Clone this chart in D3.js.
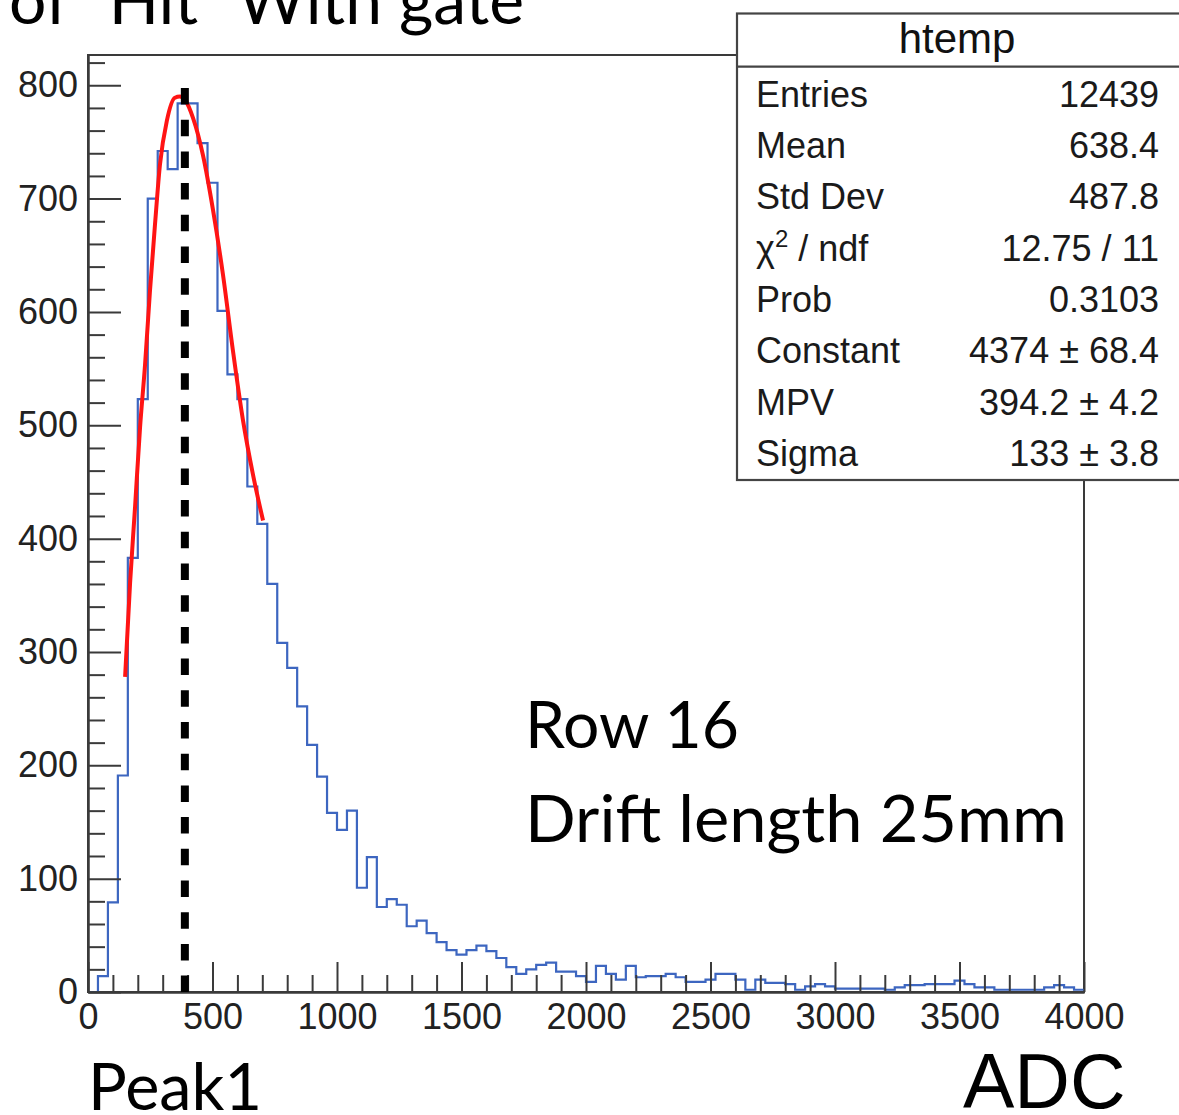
<!DOCTYPE html>
<html><head><meta charset="utf-8">
<script src="https://cdn.jsdelivr.net/npm/d3@7"></script>
<style>html,body{margin:0;padding:0;background:#fff;overflow:hidden}</style>
</head><body><svg id="c" width="1179" height="1115"></svg>
<script>
// ---- data ----
const binWidth = 40; // ADC per bin, 100 bins over 0..4000
const counts = [
  0, 14, 79, 191, 383, 523, 700, 742, 726, 784,
  784, 749, 714, 601, 545, 523, 446, 413, 360, 308,
  286, 252, 218, 190, 158, 143, 160, 92, 119, 75,
  82, 77, 58, 63, 52, 44, 37, 33, 37, 41,
  36, 30, 22, 16, 20, 24, 26, 18, 18, 14,
  9, 23, 16, 11, 23, 13, 14, 14, 16, 13,
  9, 9, 11, 16, 16, 11, 2, 11, 8, 8,
  7, 2, 5, 7, 5, 3, 3, 3, 3, 3,
  2, 4, 6, 6, 7, 7, 7, 10, 7, 4,
  4, 2, 2, 2, 2, 2, 4, 6, 4, 2
];
const fitADC = [149, 169, 189, 209, 229, 249, 269, 289, 317, 349, 369, 390, 422, 462, 502, 542, 582, 622, 663, 703];
const fitVal = [278, 361, 428, 498, 553, 619, 677, 730, 769, 789, 790, 787, 771, 738, 690, 633, 566, 505, 456, 416];
const peakADC = 389;
const xTicks = [0, 500, 1000, 1500, 2000, 2500, 3000, 3500, 4000];
const yTicks = [0, 100, 200, 300, 400, 500, 600, 700, 800];
const statsTitle = "htemp";
const statsLabels = ["Entries", "Mean", "Std Dev", "χ2 / ndf", "Prob", "Constant", "MPV", "Sigma"];
const statsValues = ["12439", "638.4", "487.8", "12.75 / 11", "0.3103", "4374 ± 68.4", "394.2 ± 4.2", "133 ± 3.8"];
const titleText = "of \u201CHit\u201D With gate";
const noteLines = ["Row 16", "Drift length 25mm"];
const peakLabel = "Peak1";
const xLabel = "ADC";

// ---- drawing ----
const svg = d3.select("#c");
const x = d3.scaleLinear().domain([0, 4000]).range([88, 1084]);
const y = d3.scaleLinear().domain([0, 826.7]).range([992, 55]);
const axisCol = "#3a3a3a";
const rootFont = "'Liberation Sans', Arial, sans-serif";
const slideFont = "Lato, 'Open Sans', sans-serif";

// frame
svg.append("rect").attr("x", x(0)).attr("y", y(826.7))
  .attr("width", x(4000) - x(0)).attr("height", y(0) - y(826.7))
  .attr("fill", "none").attr("stroke", axisCol).attr("stroke-width", 2);

// histogram
const histPts = counts.map((c, i) => [i * binWidth, c]);
histPts.push([counts.length * binWidth, counts[counts.length - 1]]);
histPts.unshift([0, 0]);
svg.append("path")
  .attr("d", d3.line().x(d => x(d[0])).y(d => y(d[1])).curve(d3.curveStepAfter)(histPts))
  .attr("fill", "none").attr("stroke", "#3d66c0").attr("stroke-width", 2.2);

// fit curve
svg.append("path")
  .attr("d", d3.line().x((d, i) => x(fitADC[i])).y((d, i) => y(fitVal[i])).curve(d3.curveMonotoneX)(fitADC))
  .attr("fill", "none").attr("stroke", "#ff1414").attr("stroke-width", 4).attr("stroke-linejoin", "round");

// axes
const yMinor = d3.range(0, 821, 20).filter(v => v % 100 !== 0);
const xMinor = d3.range(0, 4001, 100).filter(v => v % 500 !== 0);
function styleAxis(g) {
  g.selectAll("path.domain").attr("stroke", axisCol).attr("stroke-width", 2);
  g.selectAll(".tick line").attr("stroke", axisCol).attr("stroke-width", 2);
  g.selectAll("text").attr("font-family", rootFont).attr("font-size", 36).attr("fill", "#222");
}
svg.append("g").attr("transform", `translate(${x(0)},0)`)
  .call(d3.axisLeft(y).tickValues(yMinor).tickSizeInner(-17).tickSizeOuter(0).tickFormat(""))
  .call(styleAxis);
svg.append("g").attr("transform", `translate(${x(0)},0)`)
  .call(d3.axisLeft(y).tickValues(yTicks).tickSizeInner(-33).tickSizeOuter(0).tickPadding(10).tickFormat(d3.format("d")))
  .call(styleAxis);
svg.append("g").attr("transform", `translate(0,${y(0)})`)
  .call(d3.axisBottom(x).tickValues(xMinor).tickSizeInner(-17).tickSizeOuter(0).tickFormat(""))
  .call(styleAxis);
svg.append("g").attr("transform", `translate(0,${y(0)})`)
  .call(d3.axisBottom(x).tickValues(xTicks).tickSizeInner(-30).tickSizeOuter(0).tickPadding(11).tickFormat(d3.format("d")))
  .call(styleAxis);

// dashed peak marker
svg.append("line").attr("x1", x(peakADC)).attr("x2", x(peakADC)).attr("y1", 88).attr("y2", 1000)
  .attr("stroke", "#000").attr("stroke-width", 8).attr("stroke-dasharray", "16.5 15.2");

// stats box
const sb = svg.append("g");
sb.append("rect").attr("x", 737).attr("y", 13.5).attr("width", 470).attr("height", 466.5)
  .attr("fill", "#fff").attr("stroke", "#444").attr("stroke-width", 2.2);
sb.append("line").attr("x1", 737).attr("x2", 1179).attr("y1", 66.7).attr("y2", 66.7)
  .attr("stroke", "#444").attr("stroke-width", 2.2);
sb.append("text").attr("x", 957).attr("y", 53).attr("text-anchor", "middle")
  .attr("font-family", rootFont).attr("font-size", 42).attr("fill", "#111").text(statsTitle);
statsLabels.forEach((lab, i) => {
  const by = 106.7 + 51.3 * i;
  const t = sb.append("text").attr("x", 756).attr("y", by)
    .attr("font-family", rootFont).attr("font-size", 36).attr("fill", "#1a1a1a");
  if (lab.startsWith("χ2")) {
    t.append("tspan").text("χ");
    t.append("tspan").attr("font-size", 24).attr("dy", -14).text("2");
    t.append("tspan").attr("dy", 14).text(lab.slice(2));
  } else {
    t.text(lab);
  }
  sb.append("text").attr("x", 1159).attr("y", by).attr("text-anchor", "end")
    .attr("font-family", rootFont).attr("font-size", 36).attr("fill", "#1a1a1a").text(statsValues[i]);
});

// slide texts
svg.append("text").attr("x", 524).attr("y", 24).attr("text-anchor", "end")
  .attr("font-family", slideFont).attr("font-size", 66).attr("fill", "#000").text(titleText);
svg.append("text").attr("x", 525).attr("y", 748).attr("font-family", slideFont).attr("font-size", 66)
  .attr("fill", "#000").attr("textLength", 214).attr("lengthAdjust", "spacingAndGlyphs").text(noteLines[0]);
svg.append("text").attr("x", 525).attr("y", 842).attr("font-family", slideFont).attr("font-size", 66)
  .attr("fill", "#000").attr("textLength", 542).attr("lengthAdjust", "spacingAndGlyphs").text(noteLines[1]);
svg.append("text").attr("x", 88).attr("y", 1110).attr("font-family", slideFont).attr("font-size", 66)
  .attr("fill", "#000").attr("textLength", 174).attr("lengthAdjust", "spacingAndGlyphs").text(peakLabel);
svg.append("text").attr("x", 963).attr("y", 1108).attr("font-family", rootFont).attr("font-size", 77)
  .attr("fill", "#000").text(xLabel);
</script>
</body></html>
